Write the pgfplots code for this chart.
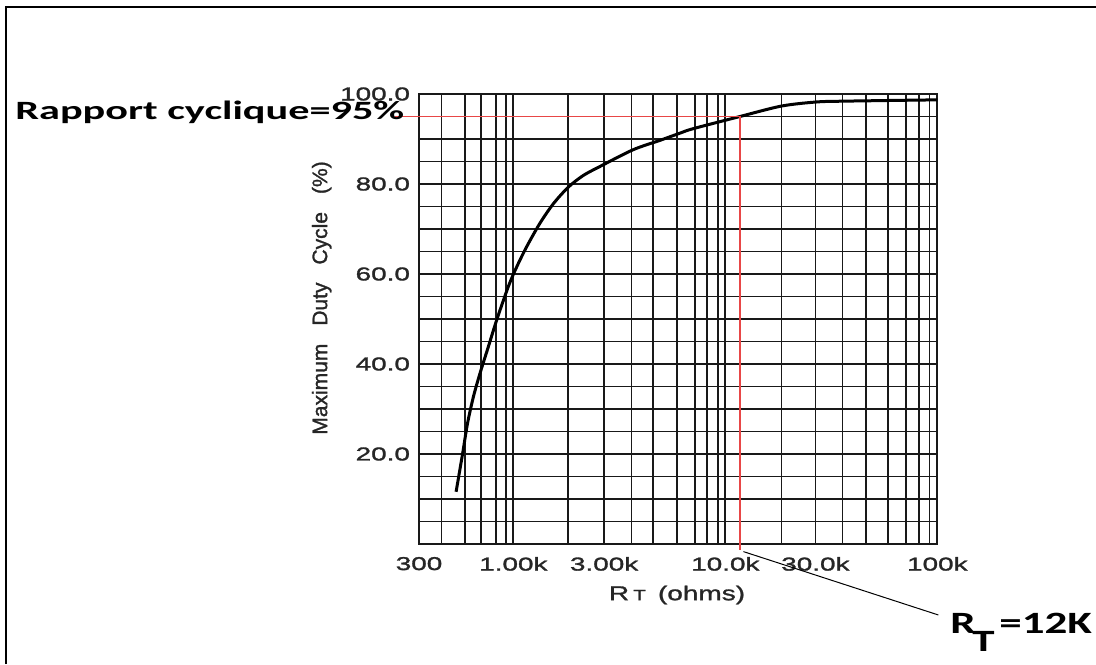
\documentclass[border=0pt]{standalone}
\usepackage{fontspec}
\setmainfont{Liberation Sans}
\newfontfamily\tickfont{Liberation Sans}[FakeStretch=1.5,FakeBold=1.6]
\newfontfamily\xlabfont{Liberation Sans}[FakeStretch=1.4,FakeBold=1.4]
\newfontfamily\ylabfont{Liberation Sans}[FakeBold=1.4]
\newfontfamily\annfont{Carlito}[FakeStretch=1.6]
\newfontfamily\rtfont{Carlito}[FakeStretch=1.45]
\usepackage{pgfplots}
\pgfplotsset{compat=1.18}
\definecolor{redline}{RGB}{232,70,70}
\definecolor{gridc}{RGB}{25,25,25}

\begin{document}
\begin{tikzpicture}[x=1pt,y=1pt]
\useasboundingbox (0,0) rectangle (548,332);
\draw[line width=1pt] (3,0) -- (3,328.5) -- (548,328.5);
\begin{axis}[
  at={(209.5pt,60pt)}, anchor=south west,
  scale only axis, width=259.15pt, height=225pt,
  xmode=log, xmin=359, xmax=100000, ymin=0, ymax=100,
  xtick={359,1000,2680,10000,26600,100000},
  xticklabels={300,1.00k,3.00k,10.0k,30.0k,100k},
  minor xtick={459,592,704,826,924,1816,3614,4570,5900,7200,8170,9270,18400,35700,46000,58500,71400,82200,92000},
  ytick={20,40,60,80,100},
  yticklabels={20.0,40.0,60.0,80.0,100.0},
  minor ytick={5,10,...,95},
  grid=both,
  major grid style={gridc, line width=0.85pt},
  minor grid style={gridc, line width=0.85pt},
  axis line style={gridc, line width=0.85pt},
  major tick length=0pt, minor tick length=0pt,
  tick label style={font=\tickfont\fontsize{9.3}{10}\selectfont, text=black!85},
  xticklabel style={yshift=-3pt},
  yticklabel style={xshift=-1pt},
  clip=false,
]
\addplot[black, line width=1.5pt, smooth] coordinates {
(537,11.6)(576,20.0)(608,26.8)(648,32.7)(696,37.9)(762,43.8)(835,49.8)
(947,57.2)(1038,61.6)(1157,66.1)(1336,71.3)(1544,75.6)(1817,79.3)
(2139,81.9)(2564,83.9)(3669,87.6)(4920,89.7)(6113,91.3)(7063,92.3)
(11730,95.0)(18310,97.3)(26490,98.2)(35520,98.4)(100000,98.7)};
\draw[redline, line width=0.7pt] (axis cs:277,95) -- (axis cs:11730,95) -- (axis cs:11730,-1.3);
\end{axis}
\node[anchor=base west, font=\annfont\bfseries\fontsize{13.2}{15}\selectfont, inner sep=0] at (7.5,272) {Rapport cyclique=95\%};
\draw[black, line width=0.5pt] (371.7,56.2) -- (469.2,24.5);
\node[anchor=base west, font=\rtfont\bfseries\fontsize{15.5}{17}\selectfont, inner sep=0] at (475,15.5) {R};
\node[anchor=base west, font=\rtfont\bfseries\fontsize{15.5}{17}\selectfont, inner sep=0] at (486,6.5) {T};
\node[anchor=base west, font=\rtfont\bfseries\fontsize{15.5}{17}\selectfont, inner sep=0] at (499.5,15.5) {=12K};
\node[font=\xlabfont\fontsize{10}{12}\selectfont, text=black!85] at (338.5,34.5) {R\hspace{2pt}{\fontsize{7.5}{9}\selectfont T}\hspace{6pt}(ohms)};
\node[rotate=90, font=\ylabfont\fontsize{10.5}{12}\selectfont, text=black!85] at (160.85,183) {Maximum\hspace{9pt}Duty\hspace{9pt}Cycle\hspace{9pt}(\%)};
\end{tikzpicture}
\end{document}
